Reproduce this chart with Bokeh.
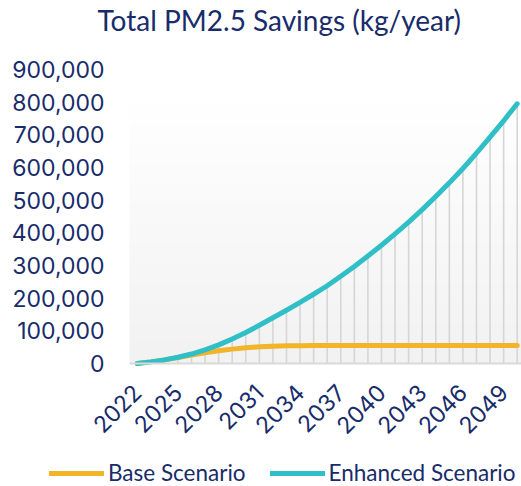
import numpy as np
from math import pi
from bokeh.plotting import figure
from bokeh.models import Range1d, FixedTicker, NumeralTickFormatter, Legend, LegendItem, Label
from bokeh.embed import file_html
from bokeh.resources import INLINE

years = list(range(2022, 2051))
base_scenario = [0, 5000, 11000, 18000, 26000, 33000, 39000, 44000, 48000, 51000,
                 53000, 54000, 54500, 55000, 55000, 55000, 55000, 55000, 55000, 55000,
                 55000, 55000, 55000, 55000, 55000, 55000, 55000, 55000, 55000]
enhanced_scenario = [0, 5000, 11000, 19000, 29000, 42000, 57000, 75000, 95000, 117000,
                     140000, 163000, 187000, 212000, 238000, 267000, 297000, 329000, 362000, 397000,
                     433000, 471000, 511000, 553000, 597000, 644000, 693000, 743000, 795000]
x_ticks = [2022, 2025, 2028, 2031, 2034, 2037, 2040, 2043, 2046, 2049]
y_ticks = [0, 100000, 200000, 300000, 400000, 500000, 600000, 700000, 800000, 900000]
series_names = ["Base Scenario", "Enhanced Scenario"]
title_text = "Total PM2.5 Savings (kg/year)"

NAVY = "#182C6A"
TEAL = "#30BFC7"
GOLD = "#F2B428"
FONT = "Lato"
AXFONT = "Inter"

W, H = 521, 486
# pixel geometry of the plot area inside the canvas
PX_LEFT, PX_Y0, PX_Y900 = 129, 363, 69
PX_FIRST, PX_LAST = 136.7, 516.7
ppy = (PX_LAST - PX_FIRST) / (years[-1] - years[0])
ppv = (PX_Y0 - PX_Y900) / y_ticks[-1]
x_start = years[0] - PX_FIRST / ppy
x_end = years[0] + (W - PX_FIRST) / ppy
y_end = PX_Y0 / ppv
y_start = -(H - PX_Y0) / ppv
area_left = years[0] - (PX_FIRST - PX_LEFT) / ppy

p = figure(width=W, height=H, output_backend="svg", toolbar_location=None,
           x_range=Range1d(x_start, x_end), y_range=Range1d(y_start, y_end),
           min_border_left=0, min_border_right=0, min_border_top=0, min_border_bottom=0)
p.outline_line_color = None
p.xgrid.visible = False
p.ygrid.visible = False

# plot-area gradient background
n = 200
frac = np.linspace(0, 1, n)
shade = np.clip(242 + (255 - 242) * frac / 0.88, 0, 255).astype(np.uint32)
img = np.zeros((n, 1), dtype=np.uint32)
view = img.view(dtype=np.uint8).reshape((n, 1, 4))
view[:, 0, 0] = shade
view[:, 0, 1] = shade
view[:, 0, 2] = shade
view[:, 0, 3] = 255
p.image_rgba(image=[img], x=area_left, y=0, dw=x_end - area_left, dh=y_ticks[-1])

# drop lines
p.segment(x0=years, y0=[0] * len(years), x1=years,
          y1=[max(a, b) for a, b in zip(base_scenario, enhanced_scenario)],
          line_color="#D6D6D6", line_width=1.6)

r_base = p.line(years, base_scenario, line_color=GOLD, line_width=5, line_cap="round", line_join="round")
r_enh = p.line(years, enhanced_scenario, line_color=TEAL, line_width=5, line_cap="round", line_join="round")

title = Label(x=years[0] - (PX_FIRST - 97) / ppy, y=(PX_Y0 - 19) / ppv, text=title_text,
              text_font=FONT, text_font_size="28px", text_color=NAVY,
              text_baseline="alphabetic", text_align="left")
p.add_layout(title)

p.xaxis.fixed_location = 0
p.xaxis.bounds = (area_left, x_end)
p.xaxis.ticker = FixedTicker(ticks=x_ticks)
p.xaxis.major_label_orientation = pi / 4
p.xaxis.axis_line_color = "#D9D9D9"
p.xaxis.axis_line_width = 2
p.xaxis.major_tick_line_color = None
p.xaxis.minor_tick_line_color = None
p.xaxis.major_label_standoff = 19

p.yaxis.fixed_location = area_left
p.yaxis.bounds = (0, y_ticks[-1])
p.yaxis.ticker = FixedTicker(ticks=y_ticks)
p.yaxis.formatter = NumeralTickFormatter(format="0,0")
p.yaxis.axis_line_color = None
p.yaxis.major_tick_line_color = None
p.yaxis.minor_tick_line_color = None
p.yaxis.major_label_standoff = 19

for ax in (p.xaxis, p.yaxis):
    ax.major_label_text_font = AXFONT
    ax.major_label_text_font_size = "23px"
    ax.major_label_text_color = NAVY

legend = Legend(items=[LegendItem(label=series_names[0], renderers=[r_base]),
                       LegendItem(label=series_names[1], renderers=[r_enh])],
                orientation="horizontal", location=(49, 0),
                glyph_width=55, glyph_height=16, label_height=16, label_standoff=4, spacing=24,
                padding=0, margin=0, border_line_color=None, background_fill_alpha=0,
                label_text_font=FONT, label_text_font_size="22.5px", label_text_color=NAVY)
p.add_layout(legend, "center")

open("out.html", "w").write(file_html(p, INLINE))
